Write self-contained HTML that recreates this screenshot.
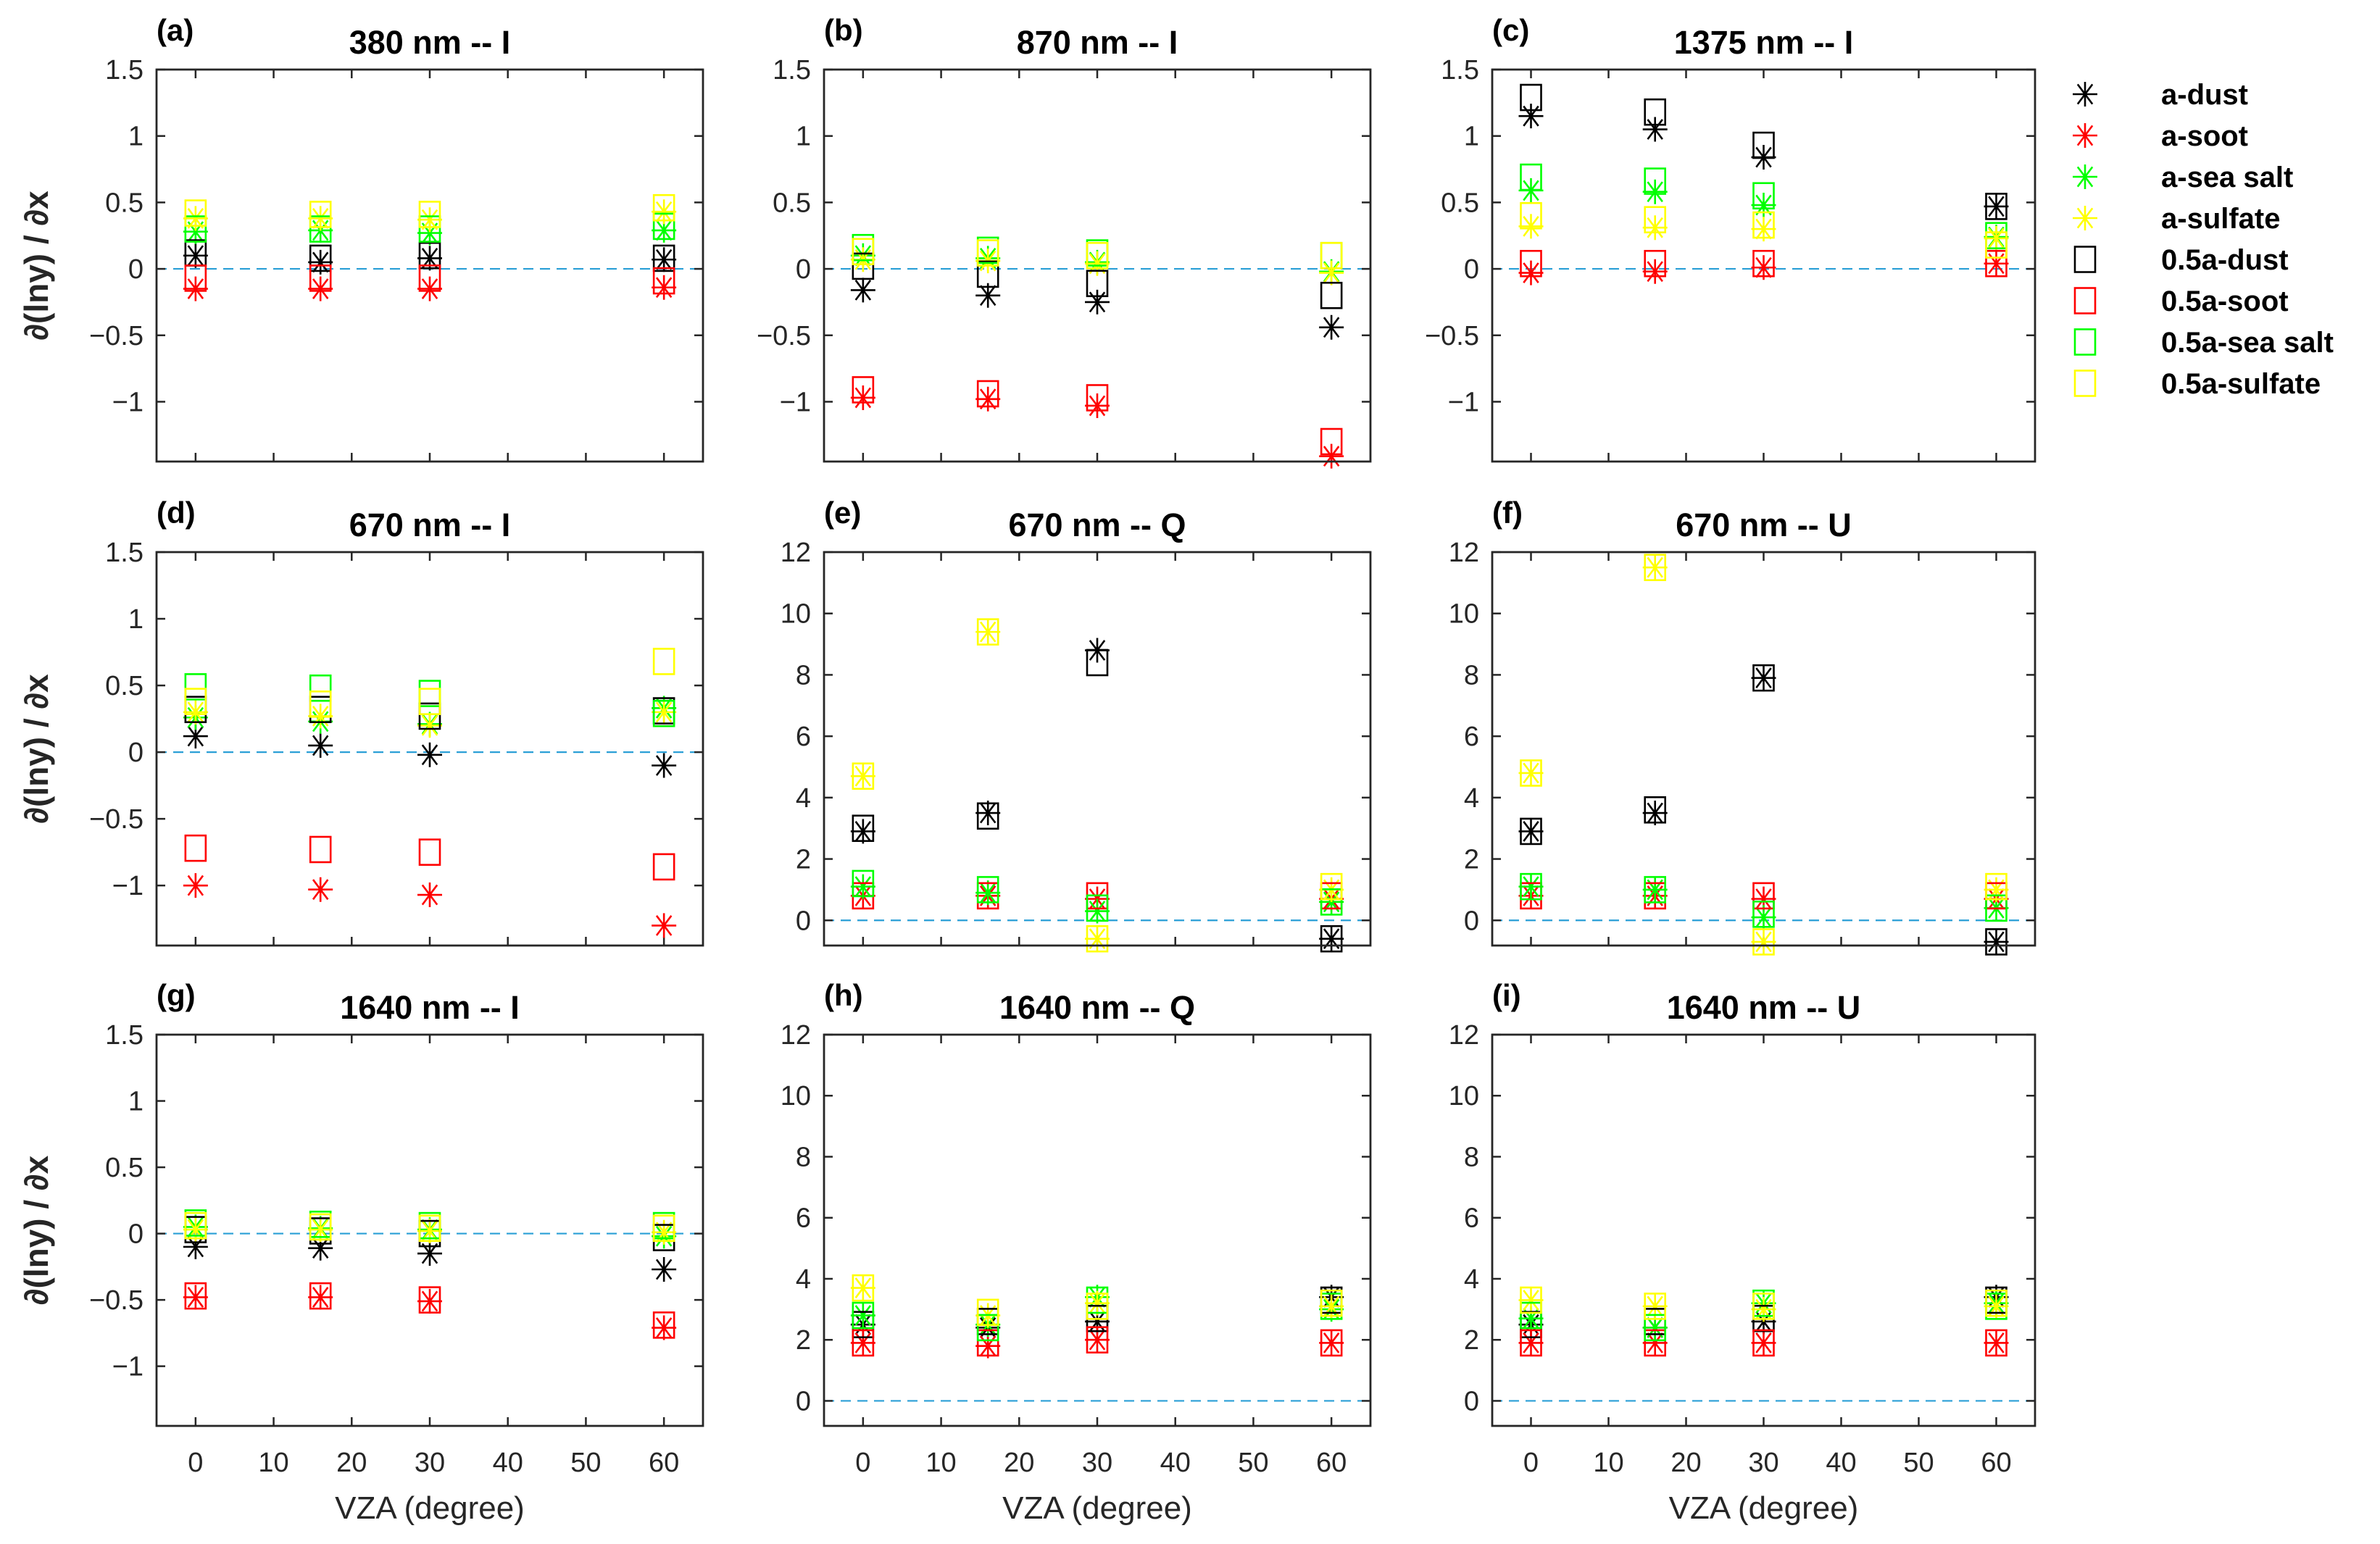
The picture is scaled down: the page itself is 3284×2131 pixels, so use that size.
<!DOCTYPE html>
<html><head><meta charset="utf-8"><style>
html,body{margin:0;padding:0;background:#fff;}
svg{display:block;font-family:"Liberation Sans",sans-serif;}
</style></head><body>
<svg id="fig" width="3284" height="2131" viewBox="0 0 3284 2131" xmlns="http://www.w3.org/2000/svg"></svg>
<script>
const xValues = [0, 16, 30, 60];
const seriesNames = ["a-dust","a-soot","a-sea salt","a-sulfate","0.5a-dust","0.5a-soot","0.5a-sea salt","0.5a-sulfate"];
const seriesColors = ["#000000","#ff0000","#00ff00","#ffff00","#000000","#ff0000","#00ff00","#ffff00"];
const seriesMarkers = ["star","star","star","star","square","square","square","square"];
const panelTitles = ["380 nm -- I","870 nm -- Q_","1375 nm -- I","670 nm -- I","670 nm -- Q","670 nm -- U","1640 nm -- I","1640 nm -- Q","1640 nm -- U"];
panelTitles[1] = "870 nm -- I";
const panelLetters = ["(a)","(b)","(c)","(d)","(e)","(f)","(g)","(h)","(i)"];
const tickI = [-1,-0.5,0,0.5,1,1.5];
const tickQ = [0,2,4,6,8,10,12];
const tickX = [0,10,20,30,40,50,60];
const dataA = [[0.1,0.05,0.08,0.07],[-0.15,-0.15,-0.15,-0.14],[0.28,0.29,0.27,0.29],[0.38,0.38,0.37,0.43],[0.12,0.08,0.1,0.08],[-0.07,-0.07,-0.07,-0.09],[0.3,0.3,0.3,0.32],[0.42,0.41,0.41,0.46]];
const dataB = [[-0.16,-0.2,-0.25,-0.44],[-0.97,-0.98,-1.03,-1.41],[0.1,0.08,0.05,-0.02],[0.07,0.06,0.04,-0.03],[0.02,-0.04,-0.11,-0.2],[-0.91,-0.94,-0.97,-1.3],[0.16,0.14,0.12,0.1],[0.13,0.12,0.1,0.1]];
const dataC = [[1.15,1.05,0.84,0.47],[-0.03,-0.02,0.01,0.04],[0.59,0.58,0.48,0.24],[0.32,0.31,0.3,0.23],[1.29,1.18,0.93,0.47],[0.04,0.04,0.04,0.04],[0.69,0.66,0.55,0.25],[0.4,0.37,0.33,0.18]];
const dataD = [[0.12,0.05,-0.02,-0.1],[-1.0,-1.03,-1.07,-1.3],[0.26,0.23,0.21,0.33],[0.3,0.27,0.2,0.3],[0.32,0.32,0.27,0.31],[-0.72,-0.73,-0.75,-0.86],[0.49,0.48,0.44,0.29],[0.38,0.36,0.38,0.68]];
const dataE = [[2.9,3.5,8.8,-0.6],[0.8,0.8,0.7,0.7],[1.1,0.9,0.3,0.6],[4.7,9.4,-0.6,1.0],[3.0,3.4,8.4,-0.6],[0.8,0.8,0.8,0.8],[1.2,1.0,0.4,0.6],[4.7,9.4,-0.6,1.1]];
const dataF = [[2.9,3.5,7.9,-0.7],[0.8,0.8,0.7,0.7],[1.1,1.0,0.1,0.4],[4.8,11.5,-0.7,1.0],[2.9,3.6,7.9,-0.7],[0.8,0.8,0.8,0.8],[1.1,1.0,0.2,0.4],[4.8,11.5,-0.7,1.1]];
const dataG = [[-0.1,-0.11,-0.15,-0.27],[-0.48,-0.48,-0.51,-0.71],[0.05,0.04,0.03,-0.02],[0.03,0.03,0.02,0.01],[0.03,0.02,0.0,-0.03],[-0.47,-0.47,-0.5,-0.69],[0.08,0.07,0.06,0.06],[0.06,0.05,0.04,0.04]];
const dataH = [[2.5,2.4,2.6,3.4],[1.9,1.8,2.0,1.9],[2.8,2.5,3.4,3.0],[3.7,2.8,3.2,3.1],[2.5,2.6,2.7,3.3],[1.9,1.9,2.0,1.9],[2.8,2.4,3.3,3.1],[3.7,2.9,3.1,3.2]];
const dataI = [[2.5,2.4,2.6,3.4],[1.9,1.9,1.9,1.9],[2.7,2.4,3.2,3.2],[3.3,3.1,3.0,3.1],[2.5,2.6,2.7,3.3],[1.9,1.9,1.9,1.9],[2.8,2.4,3.2,3.1],[3.3,3.1,3.1,3.2]];
const panelData = [dataA,dataB,dataC,dataD,dataE,dataF,dataG,dataH,dataI];

const NS = "http://www.w3.org/2000/svg";
const svg = document.getElementById("fig");
function mk(tag, attrs, parent){
  const e = document.createElementNS(NS, tag);
  for (const k in attrs) e.setAttribute(k, attrs[k]);
  (parent||svg).appendChild(e);
  return e;
}
const colsX = [[216,970],[1137,1891],[2059,2808]];
const rowsY = [[96,637],[762,1305],[1428,1968]];
const XMIN=-5, XMAX=65;
const AX="#262626";

function drawMarker(g, type, cx, cy, color){
  if (type==="star"){
    const r=17, p=[];
    const d = `M${cx-r},${cy}H${cx+r}M${cx},${cy-r}V${cy+r}M${cx-r*0.6},${cy-r*0.8}L${cx+r*0.6},${cy+r*0.8}M${cx+r*0.6},${cy-r*0.8}L${cx-r*0.6},${cy+r*0.8}`;
    return mk("path",{d:d,stroke:color,"stroke-width":2.6,fill:"none"},g);
  } else {
    const s=14;
    return mk("rect",{x:cx-s,y:cy-s*1.25,width:2*s,height:2.5*s,stroke:color,"stroke-width":2.6,fill:"none"},g);
  }
}

for (let p=0;p<9;p++){
  const col=p%3,row=Math.floor(p/3);
  const [x0,x1]=colsX[col],[y0,y1]=rowsY[row];
  const isI = (p===0||p===1||p===2||p===3||p===6);
  const ymin = isI?-1.45:-0.82, ymax = isI?1.5:12;
  const sx=v=>x0+(v-XMIN)/(XMAX-XMIN)*(x1-x0);
  const sy=v=>y1-(v-ymin)/(ymax-ymin)*(y1-y0);
  const g = mk("g",{});
  
  
  // zero line
  const zl = mk("line",{x1:x0,x2:x1,y1:sy(0),y2:sy(0),stroke:"#2a9fd6","stroke-width":2.2,"stroke-dasharray":"14 9"},g);
  
  
  // ticks
  const yt = isI?tickI:tickQ;
  yt.forEach(t=>{
    const y=sy(t);
    mk("line",{x1:x0,x2:x0+12,y1:y,y2:y,stroke:AX,"stroke-width":2.5},g);
    mk("line",{x1:x1,x2:x1-12,y1:y,y2:y,stroke:AX,"stroke-width":2.5},g);
    const tl = mk("text",{x:x0-18,y:y+13,"text-anchor":"end","font-size":38,fill:AX},g);
    tl.textContent = (t<0?"\u2212"+(-t):String(t));
    
    
  });
  tickX.forEach(t=>{
    const x=sx(t);
    mk("line",{x1:x,x2:x,y1:y1,y2:y1-12,stroke:AX,"stroke-width":2.5},g);
    mk("line",{x1:x,x2:x,y1:y0,y2:y0+12,stroke:AX,"stroke-width":2.5},g);
    if (row===2){
      const tl = mk("text",{x:x,y:2031,"text-anchor":"middle","font-size":38,fill:AX},g);
      tl.textContent = String(t);
      
      
    }
  });
  // markers
  const data = panelData[p];
  data.forEach((series,si)=>{
    const sg = mk("g",{},g);
    
    
    series.forEach((v,i)=>{
      const m = drawMarker(sg, seriesMarkers[si], sx(xValues[i]), sy(v), seriesColors[si]);
      
      
    });
  });
  // box
  const box = mk("rect",{x:x0,y:y0,width:x1-x0,height:y1-y0,fill:"none",stroke:AX,"stroke-width":2.8},g);
  
  
  // title and letter
  const tt = mk("text",{x:(x0+x1)/2,y:y0-22,"text-anchor":"middle","font-size":45,"font-weight":"bold",fill:"#000"},g);
  tt.textContent = panelTitles[p];
  
  
  const lt = mk("text",{x:x0,y:y0-40,"font-size":42,"font-weight":"bold",fill:"#000"},g);
  lt.textContent = panelLetters[p];
  
  
  if (col===0){
    const yc=(y0+y1)/2;
    const yl = mk("text",{x:0,y:0,transform:`translate(66,${yc}) rotate(-90)`,"text-anchor":"middle","font-size":46,"font-weight":"bold",fill:AX},g);
    yl.textContent = "\u2202(lny) / \u2202x";
    
    
  }
  if (row===2){
    const xl = mk("text",{x:(x0+x1)/2,y:2096,"text-anchor":"middle","font-size":44,fill:AX},g);
    xl.textContent = "VZA (degree)";
    
    
  }
}
// legend
const lg = mk("g",{});


seriesNames.forEach((n,i)=>{
  const y = 130 + i*57;
  const e = mk("g",{},lg);
  
  
  drawMarker(e, seriesMarkers[i], 2877, y, seriesColors[i]);
  const t = mk("text",{x:2982,y:y+14,"font-size":40,"font-weight":"bold",fill:"#000"},e);
  t.textContent = n;
});
</script>
</body></html>
